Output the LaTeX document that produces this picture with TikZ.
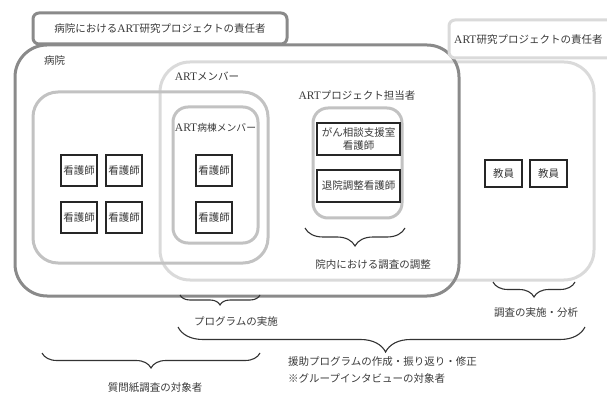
\documentclass[tikz,border=0pt]{standalone}
\usepackage{fontspec}
\setmainfont{Noto Sans CJK JP}
\newfontfamily\latfont{Liberation Serif}
\usetikzlibrary{decorations.pathreplacing}
\definecolor{dk}{HTML}{8A8A8A}
\definecolor{md}{HTML}{C2C2C2}
\definecolor{lt}{HTML}{DADADA}
\definecolor{tx}{HTML}{3A3A3A}
\newcommand{\A}{{\latfont\fontsize{11.5}{12}\selectfont ART}}
\tikzset{
  cont/.style={draw, line width=3pt, inner sep=0pt, anchor=center},
  person/.style={draw=black!85, line width=1.1pt, fill=white, inner sep=0pt, text=tx, font=\fontsize{10.5}{12}\selectfont, align=center},
  lbl/.style={text=tx, font=\fontsize{10.5}{12}\selectfont, inner sep=0pt},
  brc/.style={draw=black!80, line width=1.1pt, decorate, decoration={brace, mirror, raise=0pt}}
}
\begin{document}
\begin{tikzpicture}[x=1pt,y=-1pt]
\useasboundingbox (0,0) rectangle (607,395);
% containers
\node[cont, draw=lt, rounded corners=30pt, minimum width=434pt, minimum height=218pt] (mem) at (377,171) {};
\node[cont, draw=dk, rounded corners=32pt, minimum width=444pt, minimum height=251pt] (hosp) at (237,170.5) {};
\node[cont, draw=md, rounded corners=25pt, minimum width=235pt, minimum height=171pt] (grp) at (150.5,177.5) {};
\node[cont, draw=md, rounded corners=15pt, minimum width=85pt, minimum height=136pt] (ward) at (215.5,175) {};
\node[cont, draw=md, rounded corners=15pt, minimum width=89pt, minimum height=110pt] (proj) at (357.5,163) {};
\node[cont, draw=dk, fill=white, rounded corners=6pt, minimum width=254pt, minimum height=31pt] (t1) at (160,28.5) {};
\node[cont, draw=lt, fill=white, rounded corners=6pt, minimum width=170pt, minimum height=38pt] (t2) at (534,39) {};
% titles and labels
\node[lbl] (t1l) at (t1.center) {病院における\A 研究プロジェクトの責任者};
\node[lbl, anchor=west] (t2l) at (454,40) {\A 研究プロジェクトの責任者};
\node[lbl, anchor=west] (hospl) at (44,61) {病院};
\node[lbl] (meml) at (207,76) {\A メンバー};
\node[lbl, font=\fontsize{9.8}{11}\selectfont] (wardl) at (215.5,128) {\A 病棟メンバー};
\node[lbl] (projl) at (357,96) {\A プロジェクト担当者};
% persons
\node[person, minimum width=36pt, minimum height=31pt] (n1) at (79,170.5) {看護師};
\node[person, minimum width=36pt, minimum height=31pt] (n2) at (124,170.5) {看護師};
\node[person, minimum width=36pt, minimum height=31pt] (n3) at (79,217.5) {看護師};
\node[person, minimum width=36pt, minimum height=31pt] (n4) at (124,217.5) {看護師};
\node[person, minimum width=36pt, minimum height=31pt] (w1) at (214,170.5) {看護師};
\node[person, minimum width=36pt, minimum height=31pt] (w2) at (214,217.5) {看護師};
\node[person, minimum width=83pt, minimum height=32pt, font=\fontsize{10.5}{12.5}\selectfont] (gan) at (358.5,139) {がん相談支援室\\看護師};
\node[person, minimum width=83pt, minimum height=32pt] (tai) at (358.5,186) {退院調整看護師};
\node[person, minimum width=37pt, minimum height=27pt] (e1) at (503.5,173.5) {教員};
\node[person, minimum width=37pt, minimum height=27pt] (e2) at (548.5,173.5) {教員};
% braces
\coordinate (b1a) at (305,228); \coordinate (b1b) at (405,228);
\coordinate (b2a) at (493,282); \coordinate (b2b) at (575,282);
\coordinate (b3a) at (180,295); \coordinate (b3b) at (260,295);
\coordinate (b4a) at (178,327); \coordinate (b4b) at (585,327);
\coordinate (b5a) at (42,353); \coordinate (b5b) at (260,353);
\draw[brc, decoration={amplitude=18pt}] (b1a) -- (b1b);
\draw[brc, decoration={amplitude=15pt}] (b2a) -- (b2b);
\draw[brc, decoration={amplitude=10pt}] (b3a) -- (b3b);
\draw[brc, decoration={amplitude=25pt, aspect=0.51}] (b4a) -- (b4b);
\draw[brc, decoration={amplitude=15pt}] (b5a) -- (b5b);
% brace labels
\node[lbl] (c1) at (373,265) {院内における調査の調整};
\node[lbl] (c2) at (536,313) {調査の実施・分析};
\node[lbl] (c3) at (236,322) {プログラムの実施};
\node[lbl, anchor=west, align=left, font=\fontsize{10.5}{17}\selectfont] (c4) at (288,370.5) {援助プログラムの作成・振り返り・修正\\※グループインタビューの対象者};
\node[lbl] (c5) at (155,388) {質問紙調査の対象者};
\end{tikzpicture}
\end{document}
